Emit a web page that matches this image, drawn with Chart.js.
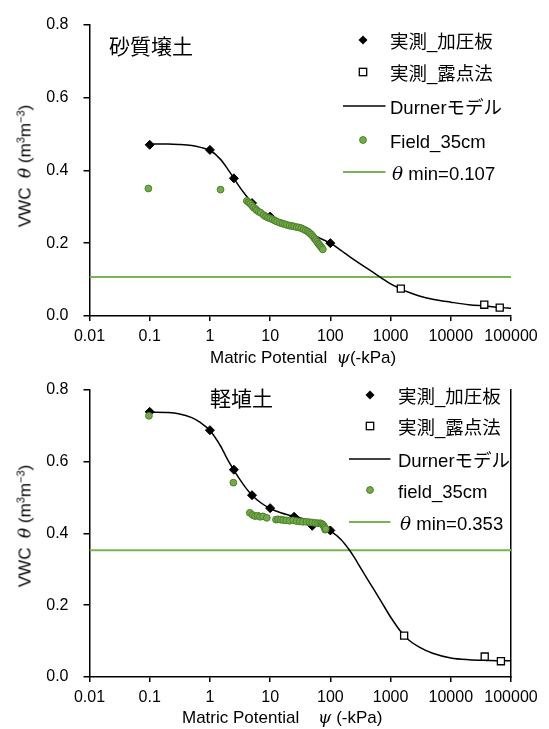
<!DOCTYPE html>
<html>
<head>
<meta charset="utf-8">
<script src="https://cdn.jsdelivr.net/npm/chart.js@4.4.1/dist/chart.umd.min.js"></script>
<style>
  html, body { margin: 0; padding: 0; background: #fff; }
  #page { position: relative; width: 549px; height: 729px; overflow: hidden; color: #000;
          font-family: "Liberation Sans", Arial, "Noto Sans CJK JP", sans-serif; }
  .panel { position: absolute; left: 0; width: 549px; }
  .panel canvas { position: absolute; left: 0; top: 0; }
  .txt { position: absolute; white-space: nowrap; line-height: 1; transform: translateY(-50%); }
  .lg { font-size: 18.5px; }
  .soil { font-family: "Noto Sans CJK JP", sans-serif; font-size: 21px; }
  .xt { font-size: 17px; }
  .yt { position: absolute; white-space: nowrap; line-height: 1; font-size: 17px;
        transform: translate(-50%, -50%) rotate(-90deg); }
  .yt sup { font-size: 11px; line-height: 0; vertical-align: 6px; }
  .greek { font-family: "DejaVu Serif", serif; font-style: italic; }
  svg.mk { position: absolute; overflow: visible; }
</style>
</head>
<body>
<div id="page">
  <div class="panel" id="p1" style="top:0;height:365px">
    <canvas id="c1" width="549" height="365"></canvas>
  </div>
  <div class="panel" id="p2" style="top:365px;height:364px;">
    <canvas id="c2" width="549" height="364"></canvas>
  </div>
</div>
<script>
// axis ticks
const xTicks = [0.01, 0.1, 1, 10, 100, 1000, 10000, 100000];
const xTickLabels = ['0.01', '0.1', '1', '10', '100', '1000', '10000', '100000'];
const yTicks = [0, 0.2, 0.4, 0.6, 0.8];

// 砂質壌土 (top)
const sandName = '砂質壌土';
const sandPlateX = [0.1, 1, 2.5, 5, 10, 100];
const sandPlateY = [0.470, 0.456, 0.378, 0.310, 0.273, 0.200];
const sandDewX = [1480, 36000, 65000];
const sandDewY = [0.075, 0.031, 0.023];
const sandCurveX = [0.1, 0.2, 0.3, 0.5, 0.7, 1, 1.5, 2, 2.5, 3, 4, 5, 7, 10, 15, 20, 30, 50, 70, 100,
                    150, 200, 300, 500, 700, 1000, 1500, 2000, 3000, 5000, 10000, 20000, 40000, 70000, 100000];
const sandCurveY = [0.472, 0.472, 0.471, 0.468, 0.463, 0.455, 0.430, 0.402, 0.378, 0.358, 0.330, 0.311, 0.290, 0.274, 0.260, 0.251, 0.241, 0.225, 0.212, 0.200,
                    0.180, 0.165, 0.145, 0.121, 0.105, 0.088, 0.074, 0.065, 0.055, 0.046, 0.038, 0.031, 0.027, 0.023, 0.021];
const sandFieldX = [0.095, 1.5, 4.1, 4.4, 4.7, 5.0, 5.3, 5.7, 6.0, 6.5, 7.0, 7.8, 8.5, 9.2, 10, 11, 12, 13, 14.5, 16, 17.5,
                    19, 21, 23, 25, 27.5, 30, 33, 36, 39, 42, 45, 48, 51, 54, 57, 60, 63, 66, 69, 72, 75];
const sandFieldY = [0.350, 0.347, 0.316, 0.312, 0.308, 0.303, 0.298, 0.294, 0.290, 0.286, 0.283, 0.277, 0.273, 0.270, 0.268, 0.265, 0.262, 0.259, 0.256, 0.254, 0.252,
                    0.250, 0.248, 0.247, 0.246, 0.244, 0.243, 0.241, 0.238, 0.235, 0.232, 0.228, 0.224, 0.219, 0.214, 0.209, 0.204, 0.199, 0.195, 0.191, 0.187, 0.183];
const sandThetaMin = 0.107;
const sandLegend = ['実測_加圧板', '実測_露点法', 'Durnerモデル', 'Field_35cm', 'min=0.107'];

// 軽埴土 (bottom)
const clayName = '軽埴土';
const clayPlateX = [0.1, 1, 2.5, 5, 10, 25, 50, 100];
const clayPlateY = [0.738, 0.687, 0.577, 0.506, 0.470, 0.446, 0.421, 0.408];
const clayDewX = [1680, 36600, 68000];
const clayDewY = [0.115, 0.057, 0.044];
const clayCurveX = [0.1, 0.2, 0.3, 0.5, 0.7, 1, 1.5, 2, 2.5, 3, 4, 5, 7, 10, 15, 20, 30, 50, 70, 100,
                    150, 200, 250, 300, 400, 500, 700, 1000, 1500, 2000, 3000, 5000, 10000, 20000, 40000, 70000, 100000];
const clayCurveY = [0.737, 0.736, 0.733, 0.722, 0.708, 0.686, 0.643, 0.603, 0.576, 0.555, 0.525, 0.506, 0.485, 0.469, 0.457, 0.451, 0.444, 0.432, 0.421, 0.407,
                    0.383, 0.357, 0.333, 0.311, 0.276, 0.250, 0.210, 0.167, 0.125, 0.103, 0.083, 0.066, 0.053, 0.048, 0.046, 0.045, 0.045];
const clayFieldX = [0.097, 2.45, 4.6, 5.1, 5.6, 6.2, 6.8, 7.6, 8.8, 12.5, 13.5, 15, 16.5, 18.5, 21, 24, 27.5, 31, 35, 40,
                    45, 50, 56, 62, 68, 72, 75, 78, 80, 82, 84];
const clayFieldY = [0.727, 0.541, 0.457, 0.451, 0.448, 0.449, 0.446, 0.447, 0.443, 0.438, 0.439, 0.438, 0.437, 0.436, 0.435, 0.436, 0.434, 0.433, 0.432, 0.432,
                    0.431, 0.430, 0.429, 0.428, 0.428, 0.426, 0.424, 0.420, 0.416, 0.410, 0.412];
const clayThetaMin = 0.353;
const clayLegend = ['実測_加圧板', '実測_露点法', 'Durnerモデル', 'field_35cm', 'min=0.353'];

const GREEN = '#70AD47', GREEN_DARK = '#4E7F2D', GREEN_LINE = '#78B450';
const tickFont = { family: '"Liberation Sans", Arial, sans-serif', size: 16 };

function pts(xs, ys) {
    return xs.map((x, i) => ({ x: x, y: ys[i] }));
}

function buildChart(id, d) {
    const scales = {
        x: {
            type: 'logarithmic', min: xTicks[0], max: xTicks[xTicks.length - 1],
            afterBuildTicks: s => { s.ticks = xTicks.map(v => ({ value: v })); },
            afterFit: s => { s.height = d.xAxisH; },
            ticks: { autoSkip: false, maxRotation: 0, padding: 6, color: '#000', font: tickFont,
                     callback: (v, i) => xTickLabels[i] },
            grid: { drawOnChartArea: false, drawTicks: true, tickLength: 5, color: '#000', lineWidth: 1.5 },
            border: { color: '#000', width: 1.5 }
        },
        y: {
            min: yTicks[0], max: yTicks[yTicks.length - 1],
            afterBuildTicks: s => { s.ticks = yTicks.map(v => ({ value: v })); },
            afterFit: s => { s.width = 89.5; },
            ticks: { padding: 15, color: '#000', font: tickFont, callback: v => v.toFixed(1) },
            grid: { drawOnChartArea: false, drawTicks: true, tickLength: 6, color: '#000', lineWidth: 1.5 },
            border: { color: '#000', width: 1.5 }
        }
    };
    if (d.rightBorder) {
        scales.yR = {
            position: 'right', min: yTicks[0], max: yTicks[yTicks.length - 1],
            ticks: { display: false }, grid: { display: false, drawTicks: false },
            border: { display: true, color: '#000', width: 1.5 },
            afterFit: s => { s.width = 0; }
        };
    }
    return new Chart(document.getElementById(id), {
        type: 'scatter',
        data: {
            datasets: [
                { data: pts(d.fieldX, d.fieldY), pointStyle: 'circle', pointRadius: 3.4,
                  backgroundColor: GREEN, borderColor: GREEN_DARK, borderWidth: 1, order: 0 },
                { data: pts(d.plateX, d.plateY), pointStyle: 'rectRot', pointRadius: 4.5,
                  backgroundColor: '#000', borderColor: '#000', borderWidth: 1, order: 1 },
                { data: pts(d.dewX, d.dewY), pointStyle: 'rect', pointRadius: 5,
                  backgroundColor: '#fff', borderColor: '#000', borderWidth: 1.3, order: 2 },
                { data: pts(d.curveX, d.curveY), showLine: true, pointRadius: 0, borderColor: '#000',
                  borderWidth: 1.5, cubicInterpolationMode: 'monotone', order: 3 },
                { data: [{ x: xTicks[0], y: d.thetaMin }, { x: xTicks[xTicks.length - 1], y: d.thetaMin }],
                  showLine: true, pointRadius: 0, borderColor: GREEN_LINE, borderWidth: 2, order: 4 }
            ]
        },
        options: {
            responsive: false,
            animation: false,
            events: [],
            layout: { padding: { left: 0, right: 38, top: d.padTop, bottom: 0 } },
            plugins: { legend: { display: false }, tooltip: { enabled: false } },
            scales: scales
        }
    });
}

function addText(panel, cls, html, left, cy) {
    const el = document.createElement('div');
    el.className = 'txt ' + cls;
    el.style.left = left + 'px';
    el.style.top = cy + 'px';
    el.innerHTML = html;
    panel.appendChild(el);
    return el;
}

function addYTitle(panel, cx, cy) {
    const el = document.createElement('div');
    el.className = 'yt';
    el.style.left = cx + 'px';
    el.style.top = cy + 'px';
    el.innerHTML = 'VWC&nbsp;&nbsp;<span class="greek">θ</span>&nbsp;(m<sup>3</sup>m<sup>−3</sup>)';
    panel.appendChild(el);
}

function addSvg(panel, cx, cy, w, h, inner) {
    const ns = 'http://www.w3.org/2000/svg';
    const s = document.createElementNS(ns, 'svg');
    s.setAttribute('class', 'mk');
    s.setAttribute('width', w);
    s.setAttribute('height', h);
    s.style.left = (cx - w / 2) + 'px';
    s.style.top = (cy - h / 2) + 'px';
    s.innerHTML = inner;
    panel.appendChild(s);
}

// legend drawn as html text next to small svg markers
function buildLegend(panel, labels, L) {
    const r = L.rows;
    addSvg(panel, L.mx, r[0], 12, 12, '<polygon points="6,1.5 10.5,6 6,10.5 1.5,6" fill="#000"/>');
    addSvg(panel, L.mx, r[1], 12, 12, '<rect x="2.3" y="2.3" width="7.4" height="7.4" fill="#fff" stroke="#000" stroke-width="1.3"/>');
    addSvg(panel, (L.l0 + L.l1) / 2, r[2], L.l1 - L.l0, 4, '<line x1="0" y1="2" x2="' + (L.l1 - L.l0) + '" y2="2" stroke="#000" stroke-width="1.5"/>');
    addSvg(panel, L.mx, r[3], 12, 12, '<circle cx="6" cy="6" r="3.4" fill="' + GREEN + '" stroke="' + GREEN_DARK + '" stroke-width="1"/>');
    addSvg(panel, (L.l0 + L.l1) / 2, r[4], L.l1 - L.l0, 4, '<line x1="0" y1="2" x2="' + (L.l1 - L.l0) + '" y2="2" stroke="' + GREEN_LINE + '" stroke-width="2"/>');
    for (let i = 0; i < 4; i++) {
        addText(panel, 'lg', labels[i], L.tx, r[i] + 1.5);
    }
    addText(panel, 'lg', '<span class="greek">θ</span> ' + labels[4], L.tx + 2, r[4] + 1.5);
}

const p1 = document.getElementById('p1');
const p2 = document.getElementById('p2');

buildChart('c1', {
    plateX: sandPlateX, plateY: sandPlateY, dewX: sandDewX, dewY: sandDewY,
    curveX: sandCurveX, curveY: sandCurveY, fieldX: sandFieldX, fieldY: sandFieldY,
    thetaMin: sandThetaMin, padTop: 15, xAxisH: 49, rightBorder: false
});
buildChart('c2', {
    plateX: clayPlateX, plateY: clayPlateY, dewX: clayDewX, dewY: clayDewY,
    curveX: clayCurveX, curveY: clayCurveY, fieldX: clayFieldX, fieldY: clayFieldY,
    thetaMin: clayThetaMin, padTop: 10, xAxisH: 52, rightBorder: true
});

addText(p1, 'soil', sandName, 109, 45);
addText(p2, 'soil', clayName, 210, 32);

buildLegend(p1, sandLegend, { mx: 362.5, l0: 342.5, l1: 385, tx: 390, rows: [40, 72, 106, 140, 172] });
buildLegend(p2, clayLegend, { mx: 369.5, l0: 348.5, l1: 390, tx: 398, rows: [30, 61, 94, 125, 157] });

addYTitle(p1, 25, 166);
addYTitle(p2, 25, 161);

addText(p1, 'xt', 'Matric Potential&nbsp;&nbsp;<span class="greek">ψ</span>(-kPa)', 210, 357);
addText(p2, 'xt', 'Matric Potential&nbsp;&nbsp;&nbsp;&nbsp;<span class="greek">ψ</span>&nbsp;(-kPa)', 182, 352);
</script>
</body>
</html>
